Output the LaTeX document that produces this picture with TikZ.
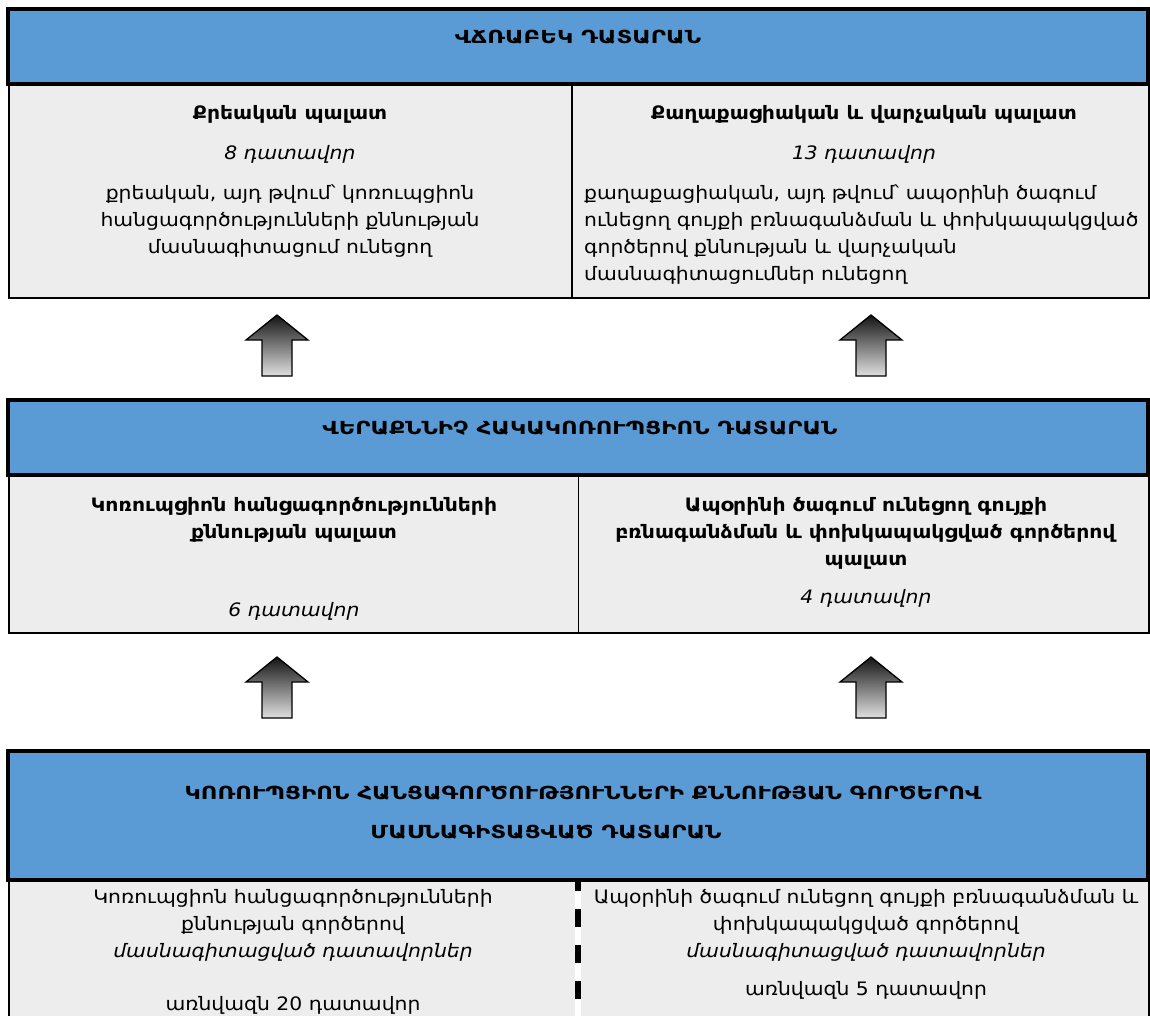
\documentclass[tikz,border=0pt]{standalone}
\usepackage{fontspec}
\setmainfont{DejaVu Sans}[FakeStretch=1.1]
\newfontfamily\hdrfont{DejaVu Sans}[FakeStretch=1.27]
\usepackage{xcolor}
\usepackage{tikz}
\usetikzlibrary{positioning}

\definecolor{hdrblue}{HTML}{5B9BD5}
\definecolor{cellgray}{HTML}{EDEDED}
\newcommand{\bodyfont}{\fontsize{18.5}{27}\selectfont}

\tikzset{
    uparrow/.pic={
        \shade[top color=black!92, bottom color=black!12, draw=black, line width=1.3pt, line join=miter]
            (-15,30.5) -- (-15,-5.5) -- (-31,-5.5) -- (0,-30.5) -- (31,-5.5) -- (15,-5.5) -- (15,30.5) -- cycle;
    }
}

\begin{document}
\begin{tikzpicture}[
    x=1pt, y=-1pt,
    hdr/.style={rectangle, draw=black, line width=4pt, fill=hdrblue, minimum width=1140pt, minimum height=#1, inner sep=0pt},
    cell/.style={rectangle, draw=black, line width=1.8pt, fill=cellgray, inner sep=0pt},
    htxt/.style={inner sep=0pt, anchor=base, align=center, font=\hdrfont\fontsize{18}{39}\selectfont\bfseries},
    txt/.style={inner sep=0pt, anchor=base, align=center, font=\bodyfont},
]
\useasboundingbox (0,0) rectangle (1150,1015);

% supreme court
\node[cell, minimum width=563pt, minimum height=214.5pt] (tl) at (290.5,190.75) {};
\node[cell, minimum width=577pt, minimum height=214.5pt] (tr) at (860.5,190.75) {};
\node[hdr=74.5pt] (vchr) at (578,46.25) {};
\node[htxt] (vchr-t) at (578,43) {ՎՃՌԱԲԵԿ ԴԱՏԱՐԱՆ};
\node[txt] (tl-t) at (290,253) {\textbf{Քրեական պալատ}\\[13pt] \textit{8 դատավոր}\\[13pt] քրեական, այդ թվում՝ կոռուպցիոն\\ հանցագործությունների քննության\\ մասնագիտացում ունեցող};
\node[txt] (tr-t) at (864,159) {\textbf{Քաղաքացիական և վարչական պալատ}\\[13pt] \textit{13 դատավոր}};
\node[txt, anchor=base west, align=left] (tr-b) at (584,280) {քաղաքացիական, այդ թվում՝ ապօրինի ծագում\\ ունեցող գույքի բռնագանձման և փոխկապակցված\\ գործերով քննության և վարչական\\ մասնագիտացումներ ունեցող};

\pic (up1) at (277,345.5) {uparrow};
\pic (up2) at (871,345.5) {uparrow};

% court of appeal
\node[cell, minimum width=569.5pt, minimum height=158.5pt] (ml) at (293.75,553.75) {};
\node[cell, minimum width=570.5pt, minimum height=158.5pt] (mr) at (863.75,553.75) {};
\node[hdr=74.5pt] (verq) at (578,437.25) {};
\node[htxt] (verq-t) at (580,434) {ՎԵՐԱՔՆՆԻՉ ՀԱԿԱԿՈՌՈՒՊՑԻՈՆ ԴԱՏԱՐԱՆ};
\node[txt] (ml-t) at (294,616) {\textbf{Կոռուպցիոն հանցագործությունների}\\ \textbf{քննության պալատ}\\[51pt] \textit{6 դատավոր}};
\node[txt] (mr-t) at (866,603) {\textbf{Ապօրինի ծագում ունեցող գույքի}\\ \textbf{բռնագանձման և փոխկապակցված գործերով}\\ \textbf{պալատ}\\[11pt] \textit{4 դատավոր}};

\pic (up3) at (277,687.5) {uparrow};
\pic (up4) at (871,687.5) {uparrow};

% specialised court
\node[rectangle, fill=cellgray, minimum width=566pt, minimum height=150pt, inner sep=0pt] (bl) at (292,955) {};
\node[rectangle, fill=cellgray, minimum width=568pt, minimum height=150pt, inner sep=0pt] (br) at (865,955) {};
\draw[line width=1.8pt] (bl.north west) -- (bl.south west);
\draw[line width=1.8pt] (br.north east) -- (br.south east);
\coordinate (sep) at (578,873);
\draw[line width=6pt, dash pattern=on 18pt off 18pt] (sep) -- (578,1030);
\node[hdr=129pt] (mas) at (578,815.5) {};
\node[htxt] (mas-t) at (583,838) {ԿՈՌՈՒՊՑԻՈՆ ՀԱՆՑԱԳՈՐԾՈՒԹՅՈՒՆՆԵՐԻ ՔՆՆՈՒԹՅԱՆ ԳՈՐԾԵՐՈՎ\\ ՄԱՍՆԱԳԻՏԱՑՎԱԾ ԴԱՏԱՐԱՆ\hspace*{74pt}};
\node[txt] (bl-t) at (293,1010) {Կոռուպցիոն հանցագործությունների\\ քննության գործերով\\ \textit{մասնագիտացված դատավորներ}\\[26pt] առնվազն 20 դատավոր};
\node[txt] (br-t) at (866,995) {Ապօրինի ծագում ունեցող գույքի բռնագանձման և\\ փոխկապակցված գործերով\\ \textit{մասնագիտացված դատավորներ}\\[11pt] առնվազն 5 դատավոր};

\end{tikzpicture}
\end{document}
